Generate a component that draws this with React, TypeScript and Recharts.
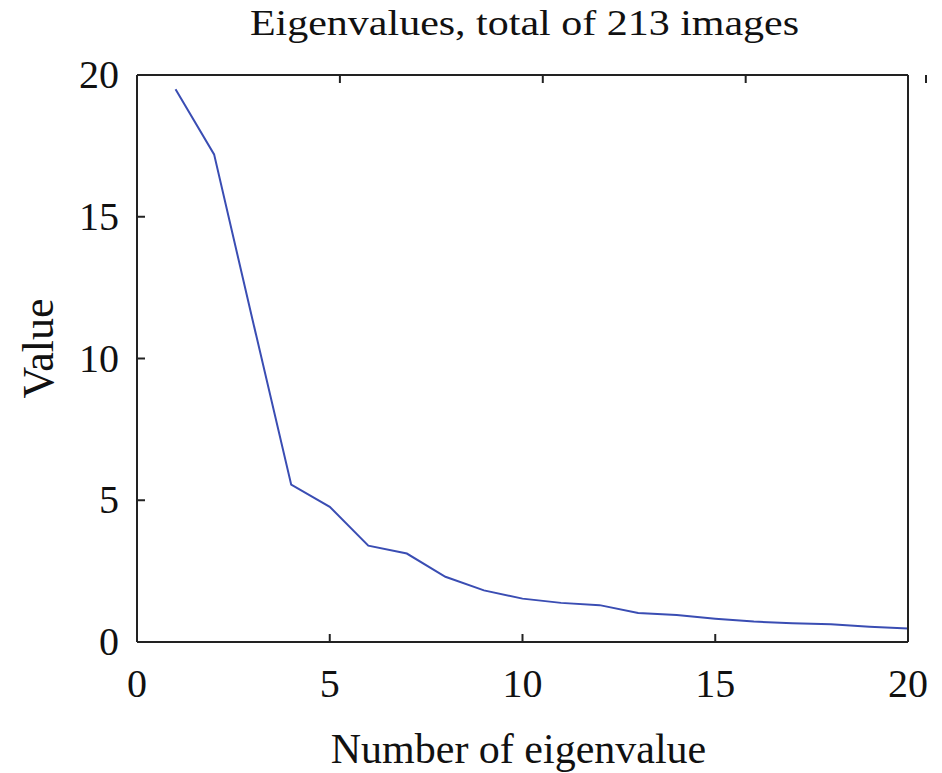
import { LineChart, Line, XAxis, YAxis } from 'recharts'

const eigenIndex = [1, 2, 3, 4, 5, 6, 7, 8, 9, 10, 11, 12, 13, 14, 15, 16, 17, 18, 19, 20]
const eigenValues = [19.5, 17.2, 11.35, 5.55, 4.77, 3.4, 3.12, 2.3, 1.82, 1.53, 1.38, 1.3, 1.02, 0.95, 0.82, 0.72, 0.66, 0.63, 0.54, 0.48]
const xTicks = [0, 5, 10, 15, 20]
const yTicks = [0, 5, 10, 15, 20]

const FONT = '"Liberation Serif", "Times New Roman", serif'
const FRAME = '#222'
const TICK_LEN = 8

const data = eigenIndex.map((n, i) => ({ n, value: eigenValues[i] }))

const BottomTick = (props: any) => {
  const { x, y, payload } = props
  const axisY = y - 40
  return (
    <g>
      <line x1={x} y1={axisY} x2={x} y2={axisY - TICK_LEN} stroke={FRAME} strokeWidth={2} />
      <text x={x} y={y} dy={15} textAnchor="middle" fontFamily={FONT} fontSize={40} fill="#111">
        {payload.value}
      </text>
    </g>
  )
}

const LeftTick = (props: any) => {
  const { x, y, payload } = props
  const axisX = x + 18
  return (
    <g>
      <line x1={axisX} y1={y} x2={axisX + TICK_LEN} y2={y} stroke={FRAME} strokeWidth={2} />
      <text x={x} y={y} dy={13} textAnchor="end" fontFamily={FONT} fontSize={40} fill="#111">
        {payload.value}
      </text>
    </g>
  )
}

const TopTick = (props: any) => {
  const { x, y } = props
  return <line x1={x} y1={y} x2={x} y2={y + TICK_LEN} stroke={FRAME} strokeWidth={2} />
}

const RightTick = (props: any) => {
  const { x, y } = props
  return <line x1={x} y1={y} x2={x - TICK_LEN} y2={y} stroke={FRAME} strokeWidth={2} />
}

// the svg starts at the top of the page so the title has room above it
const App = () => {
  return (
    <div style={{ marginTop: -8 }}>
      <LineChart width={926} height={773} data={data} margin={{ top: 0, right: 0, bottom: 0, left: 0 }}>
        <XAxis
          dataKey="n"
          type="number"
          domain={[0, 20]}
          ticks={xTicks}
          height={131}
          tickSize={0}
          tickMargin={40}
          tickLine={false}
          axisLine={{ stroke: FRAME, strokeWidth: 2 }}
          tick={<BottomTick />}
          label={{
            content: (p: any) => (
              <text
                x={p.viewBox.x + p.viewBox.width / 2 - 4}
                y={p.viewBox.y + 121}
                textAnchor="middle"
                fontFamily={FONT}
                fontSize={42}
                fill="#111"
              >
                Number of eigenvalue
              </text>
            ),
          }}
        />
        <XAxis
          xAxisId="top"
          orientation="top"
          type="number"
          domain={[0, 20]}
          ticks={xTicks}
          height={75}
          tickSize={0}
          tickMargin={0}
          tickLine={false}
          axisLine={{ stroke: FRAME, strokeWidth: 2 }}
          tick={<TopTick />}
          label={{
            content: (p: any) => (
              <text
                transform={`translate(${p.viewBox.x + p.viewBox.width / 2 + 2} 35) scale(1.2 1)`}
                textAnchor="middle"
                fontFamily={FONT}
                fontSize={35}
                fill="#111"
              >
                Eigenvalues, total of 213 images
              </text>
            ),
          }}
        />
        <YAxis
          type="number"
          domain={[0, 20]}
          ticks={yTicks}
          width={129}
          tickSize={0}
          tickMargin={18}
          tickLine={false}
          axisLine={{ stroke: FRAME, strokeWidth: 2 }}
          tick={<LeftTick />}
          label={{
            content: (p: any) => {
              const cx = 30
              const cy = p.viewBox.y + p.viewBox.height / 2 - 10
              return (
                <text
                  x={cx}
                  y={cy}
                  transform={`rotate(-90 ${cx} ${cy})`}
                  textAnchor="middle"
                  dominantBaseline="central"
                  fontFamily={FONT}
                  fontSize={44}
                  fill="#111"
                >
                  Value
                </text>
              )
            },
          }}
        />
        <YAxis
          yAxisId="right"
          orientation="right"
          type="number"
          domain={[0, 20]}
          ticks={yTicks}
          width={26}
          tickSize={0}
          tickMargin={0}
          tickLine={false}
          axisLine={{ stroke: FRAME, strokeWidth: 2 }}
          tick={<RightTick />}
        />
        <Line
          type="linear"
          dataKey="value"
          stroke="#3a4db3"
          strokeWidth={2}
          dot={false}
          isAnimationActive={false}
        />
      </LineChart>
    </div>
  )
}

export default App
